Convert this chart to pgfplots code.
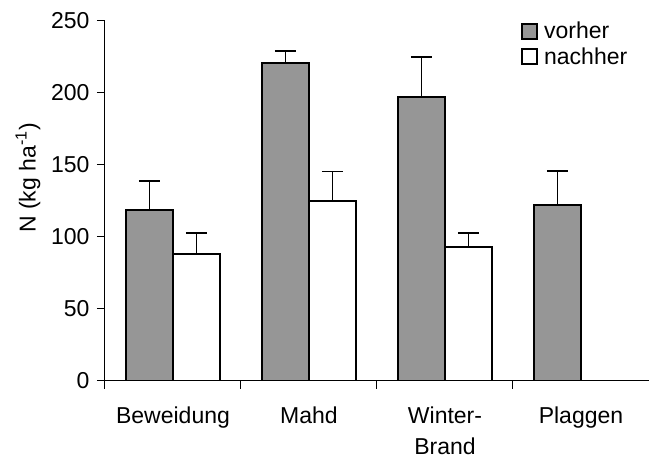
\documentclass[border=0pt]{standalone}
\usepackage{pgfplots}
\pgfplotsset{compat=1.18}
\usepackage{fontspec}
\setmainfont{Liberation Sans}
\definecolor{barGray}{RGB}{150,150,150}
\newcommand\fnt{\fontsize{23}{31}\selectfont}

\begin{document}
\begin{tikzpicture}
\begin{axis}[
  scale only axis, width=544pt, height=360pt,
  xmin=-0.5, xmax=3.5, ymin=0, ymax=250,
  axis x line=bottom, axis y line=left,
  axis line style={-, line width=1pt},
  ytick={0,50,...,250},
  xtick={-0.5,0.5,1.5,2.5},
  xticklabels={,,,},
  extra x ticks={0,1,2,3},
  extra x tick labels={Beweidung, Mahd, Winter-\\Brand, Plaggen},
  extra x tick style={tick style={draw=none}},
  major tick length=8pt,
  tick align=outside,
  tick style={black, line width=1pt},
  xticklabel style={align=center, font=\fnt, yshift=-14pt},
  yticklabel style={font=\fnt, xshift=-4pt},
  /pgf/number format/assume math mode=true,
  ylabel={N (kg ha\textsuperscript{-1})},
  ylabel style={font=\fnt, at={(axis description cs:-0.1415,0.564)}, anchor=center},
  ybar=0pt, bar width=47pt,
  legend image code/.code={\draw[#1, line width=1.6pt] (0pt,-7.5pt) rectangle (15pt,7.5pt); \path (20pt,0pt);},
  legend style={at={(axis description cs:0.765,1.0)}, anchor=north west, draw=none, fill=none,
    font=\fnt, row sep=5pt, inner sep=0pt, nodes={inner sep=1pt}},
  legend cell align=left,
  error bars/error bar style={line width=1.8pt, black},
  error bars/error mark options={line width=1.8pt, black, mark size=10.5pt, rotate=90},
]
\addplot[fill=barGray, draw=black, line width=2pt,
  error bars/.cd, y dir=plus, y explicit]
  coordinates {(0,119) +- (0,20) (1,221) +- (0,8) (2,197) +- (0,28) (3,122) +- (0,24)};
\addlegendentry{vorher}
\addplot[fill=white, draw=black, line width=2pt,
  error bars/.cd, y dir=plus, y explicit]
  coordinates {(0,88) +- (0,14.5) (1,125) +- (0,20.5) (2,93) +- (0,9.5) (3,0) +- (0,0)};
\addlegendentry{nachher}
\end{axis}
\pgfresetboundingbox
\path (-105pt,-81pt) rectangle (544pt,381pt);
\end{tikzpicture}
\end{document}
